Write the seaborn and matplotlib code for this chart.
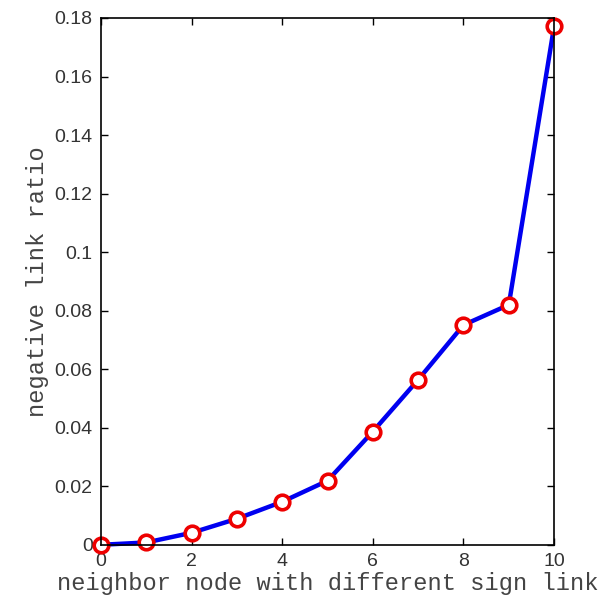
import numpy as np
import pandas as pd
import matplotlib
matplotlib.use("Agg")
import matplotlib.pyplot as plt
import seaborn as sns

# values
neighbors = [0, 1, 2, 3, 4, 5, 6, 7, 8, 9, 10]
neg_ratio = [0.0, 0.0008, 0.0041, 0.0089, 0.0147, 0.0219, 0.0387, 0.0564, 0.0751, 0.0820, 0.1772]
x_ticks = [0, 2, 4, 6, 8, 10]
y_ticks = [0, 0.02, 0.04, 0.06, 0.08, 0.1, 0.12, 0.14, 0.16, 0.18]
y_tick_labels = ["0", "0.02", "0.04", "0.06", "0.08", "0.1", "0.12", "0.14", "0.16", "0.18"]

df = pd.DataFrame({"neighbors": neighbors, "ratio": neg_ratio})

sns.set_style("ticks")
plt.rcParams["font.family"] = ["Liberation Sans", "DejaVu Sans"]

fig = plt.figure(figsize=(6.01, 6.0), dpi=100)
ax = fig.add_axes([0.168, 0.092, 0.754, 0.878])

sns.lineplot(data=df, x="neighbors", y="ratio", ax=ax, color="#0000f0",
             linewidth=3.2, marker="o", markersize=10.5, markerfacecolor="white",
             markeredgecolor="#ee0000", markeredgewidth=2.6, clip_on=False)

ax.set_xlim(0, 10)
ax.set_ylim(0, 0.18)
ax.set_xticks(x_ticks)
ax.set_yticks(y_ticks)
ax.set_yticklabels(y_tick_labels)
ax.tick_params(direction="in", length=5, width=1, top=True, right=True,
               labelsize=14, colors="black", labelcolor="#333333", pad=6)
for s in ax.spines.values():
    s.set_linewidth(1.2)
    s.set_color("black")

mono = {"family": ["Liberation Mono", "DejaVu Sans Mono"], "size": 17.1, "color": "#444444"}
ax.set_xlabel("neighbor node with different sign link", fontdict=mono, labelpad=1)
ax.set_ylabel("negative link ratio", fontdict=mono, labelpad=4)

fig.savefig("out.png", dpi=100)
